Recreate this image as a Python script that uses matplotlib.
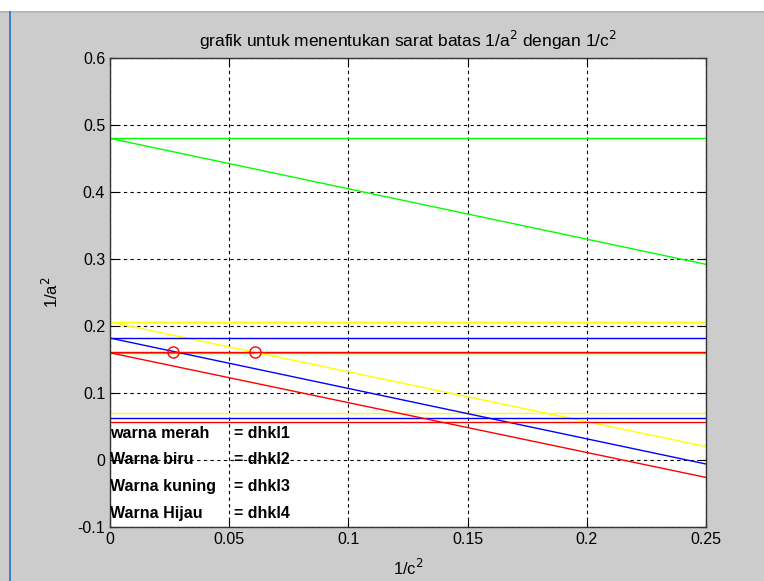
import matplotlib
matplotlib.use("Agg")
import matplotlib.pyplot as plt
from matplotlib.patches import Rectangle
import numpy as np

plt.rcParams['font.family'] = ['Liberation Sans', 'DejaVu Sans']

# garis miring (1/a^2 vs 1/c^2), ujung kiri dan kanan
x_ends = [0, 0.25]
merah = [0.160, -0.026]
biru = [0.182, -0.006]
kuning = [0.206, 0.020]
hijau = [0.480, 0.292]

# garis batas horizontal
batas_merah = [0.161, 0.056]
batas_biru = [0.182, 0.063]
batas_kuning = [0.206, 0.070]
batas_hijau = [0.480, 0.1595]

# titik potong
titik_x = [0.0264, 0.0608]
titik_y = [0.161, 0.161]

keterangan = ["warna merah", "Warna biru", "Warna kuning", "Warna Hijau"]
kode = ["= dhkl1", "= dhkl2", "= dhkl3", "= dhkl4"]
ket_y = [0.04, 0.0, -0.04, -0.08]

fig = plt.figure(figsize=(7.64, 5.81), dpi=100, facecolor='#cccccc')
# strip atas dan garis kiri seperti jendela figure
fig.patches.append(Rectangle((0, 1 - 11 / 581), 1, 11 / 581, transform=fig.transFigure,
                             facecolor='white', edgecolor='none', zorder=-1))
fig.patches.append(Rectangle((0, 1 - 13 / 581), 1, 2 / 581, transform=fig.transFigure,
                             facecolor='#b8b8b8', edgecolor='none', zorder=-1))
fig.patches.append(Rectangle((9 / 764, 0), 2 / 764, 1 - 11 / 581, transform=fig.transFigure,
                             facecolor='#3c7fd0', edgecolor='none', zorder=-1))

ax = fig.add_axes([110 / 764, 54 / 581, 596 / 764, 469 / 581])
ax.set_facecolor('white')

# hijau digambar dulu supaya merah ada di atasnya
warna = ['lime', 'yellow', 'blue', 'red']
miring = [hijau, kuning, biru, merah]
batas = [batas_hijau, batas_kuning, batas_biru, batas_merah]
for c, m, b in zip(warna, miring, batas):
    ax.plot(x_ends, m, color=c, lw=1)
    for v in b:
        ax.axhline(v, color=c, lw=1)

ax.plot(titik_x, titik_y, 'o', mfc='none', mec='red', ms=8, mew=1)

for t, k, yy in zip(keterangan, kode, ket_y):
    ax.text(0, yy, t, fontsize=11.5, va='center', ha='left', fontweight='bold')
    ax.text(0.052, yy, k, fontsize=11.5, va='center', ha='left', fontweight='bold')

ax.set_xlim(0, 0.25)
ax.set_ylim(-0.1, 0.6)
ax.set_xticks([0, 0.05, 0.1, 0.15, 0.2, 0.25])
ax.set_xticklabels(['0', '0.05', '0.1', '0.15', '0.2', '0.25'])
ax.set_yticks([-0.1, 0, 0.1, 0.2, 0.3, 0.4, 0.5, 0.6])
ax.set_yticklabels(['-0.1', '0', '0.1', '0.2', '0.3', '0.4', '0.5', '0.6'])
ax.tick_params(direction='in', length=5, top=True, right=True, labelsize=11.5, colors='black')
ax.grid(True, color='black', linestyle=(0, (3, 3)), lw=0.8)
for s in ax.spines.values():
    s.set_color('#333333')
    s.set_linewidth(1)

ax.set_title('grafik untuk menentukan sarat batas 1/a$^2$ dengan 1/c$^2$', fontsize=12.5, pad=8)
ax.set_xlabel('1/c$^2$', fontsize=12, labelpad=8)
ax.set_ylabel('1/a$^2$', fontsize=12, labelpad=12)

fig.savefig('out.png', dpi=100, facecolor=fig.get_facecolor())
